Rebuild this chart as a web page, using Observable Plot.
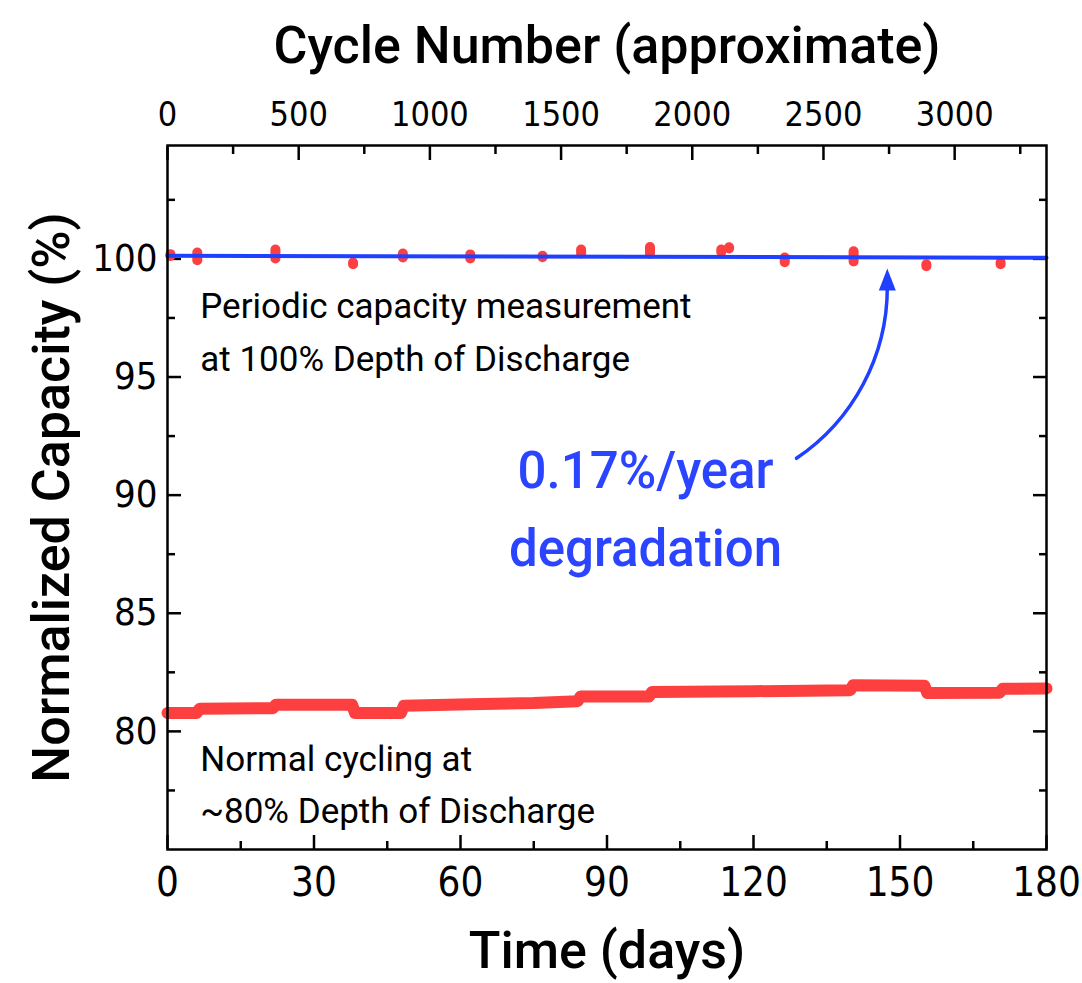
<!DOCTYPE html>
<html><head><meta charset="utf-8">
<script src="https://cdn.jsdelivr.net/npm/d3@7"></script>
<script src="https://cdn.jsdelivr.net/npm/@observablehq/plot@0.6"></script>
<style>html,body{margin:0;padding:0;background:#fff;overflow:hidden}</style>
</head><body><div id="chart"></div>
<script>
// ---- data ----
// periodic 100% DoD capacity checks (each a short vertical cluster of points)
const measDays = [0.6, 6.1, 22.1, 38.0, 48.2, 62.0, 76.8, 84.7, 98.8, 113.4, 115.0, 126.4, 140.5, 155.4, 170.6];
const measLow  = [100.10, 99.92, 100.00, 99.75, 100.04, 100.00, 100.05, 100.21, 100.20, 100.27, 100.42, 99.84, 99.87, 99.67, 99.75];
const measHigh = [100.18, 100.25, 100.38, 99.83, 100.21, 100.17, 100.11, 100.38, 100.48, 100.38, 100.47, 100.04, 100.30, 99.75, 99.83];

// normal cycling at ~80% DoD
const cycDays = [0, 6.0, 6.6, 21.6, 22.2, 37.8, 38.4, 47.8, 48.4, 62, 75, 84.0, 84.6, 98.6, 99.2, 120, 139.8, 140.4, 155.0, 155.6, 170.4, 171.0, 180];
const cycCap  = [80.78, 80.78, 80.96, 80.98, 81.13, 81.13, 80.78, 80.78, 81.08, 81.15, 81.20, 81.28, 81.48, 81.48, 81.67, 81.70, 81.74, 81.95, 81.93, 81.62, 81.64, 81.80, 81.82];

// linear fit, 0.17%/year
const fitDays = [0, 180];
const fitCap  = [100.13, 100.05];

// axis ticks
const dayMajor = [0, 30, 60, 90, 120, 150, 180];
const dayMinor = [15, 45, 75, 105, 135, 165];
const capMajor = [80, 85, 90, 95, 100];
const capMinor = [77.5, 82.5, 87.5, 92.5, 97.5, 102.5];
const cycleMajor = [0, 500, 1000, 1500, 2000, 2500, 3000];
const cycleMinor = [250, 750, 1250, 1750, 2250, 2750, 3250];
const cycleMax = 3350; // cycles at day 180 (approximate)

// labels
const titleTop = "Cycle Number (approximate)";
const titleBottom = "Time (days)";
const titleLeft = "Normalized Capacity (%)";
const noteTop = "Periodic capacity measurement\nat 100% Depth of Discharge";
const noteBottom = "Normal cycling at\n~80% Depth of Discharge";
const noteRate = "0.17%/year\ndegradation";

// ---- fonts ----
function hasFont(name) {
  const c = document.createElement("canvas").getContext("2d");
  const s = "mmmmmmmmmmlli 0123456789 ABCDEFGwxyz";
  for (const base of ["monospace", "serif"]) {
    c.font = `40px ${base}`; const w0 = c.measureText(s).width;
    c.font = `40px '${name}', ${base}`; const w1 = c.measureText(s).width;
    if (Math.abs(w0 - w1) > 0.5) return true;
  }
  return false;
}
const narrow = hasFont("Liberation Sans Narrow");
const tickFont = narrow ? "'Liberation Sans Narrow', sans-serif" : "'DejaVu Sans Condensed', sans-serif";
const dispFont = narrow ? "'Liberation Sans Narrow', sans-serif" : "Roboto, sans-serif";
const textFont = "Roboto, 'Open Sans', sans-serif";
const fs = narrow
  ? {bottom: 46, left: 44, top: 40, title: 62, rate: 60, titleW: 400, rateW: 400}
  : {bottom: 40, left: 38, top: 34, title: 52, rate: 51, titleW: 500, rateW: 500};

// ---- build ----
const RED = "#fd3f3f", BLUE = "#2040ff", BLUE_T = "#2a44ff";
const toDay = c => c * 180 / cycleMax;

const meas = measDays.map((d, i) => ({day: d, lo: measLow[i], hi: measHigh[i]}));
const cyc = cycDays.map((d, i) => ({day: d, cap: cycCap[i]}));
const fit = fitDays.map((d, i) => ({day: d, cap: fitCap[i]}));

const triangle = {draw(ctx) { ctx.moveTo(0, -15); ctx.lineTo(8.5, 7); ctx.lineTo(-8.5, 7); ctx.closePath(); }};
const arrowData = [{x1: 128.8, y1: 91.56, x2: 147.4, y2: 98.79}];
const arrowTip = [{x: 147.4, y: 98.96}];

const tickStyle = {stroke: "black", strokeWidth: 2.5, tickFormat: () => "", label: null};
const labStyle = {tickSize: 0, fontFamily: tickFont, label: null, fill: "black"};

const chart = Plot.plot({
  width: 1082, height: 983,
  marginLeft: 167, marginRight: 36, marginTop: 145, marginBottom: 134,
  style: {background: "white", color: "black", fontFamily: textFont},
  x: {domain: [0, 180]},
  y: {domain: [75, 104.8]},
  marks: [
    // tick marks (inward)
    Plot.axisX(dayMajor, {anchor: "bottom", tickSize: -14, ...tickStyle}),
    Plot.axisX(dayMinor, {anchor: "bottom", tickSize: -8, ...tickStyle}),
    Plot.axisX(cycleMajor.map(toDay), {anchor: "top", tickSize: -14, ...tickStyle}),
    Plot.axisX(cycleMinor.map(toDay), {anchor: "top", tickSize: -8, ...tickStyle}),
    Plot.axisY(capMajor, {anchor: "left", tickSize: -14, ...tickStyle}),
    Plot.axisY(capMinor, {anchor: "left", tickSize: -8, ...tickStyle}),
    Plot.axisY(capMajor, {anchor: "right", tickSize: -14, ...tickStyle}),
    Plot.axisY(capMinor, {anchor: "right", tickSize: -8, ...tickStyle}),
    // tick labels
    Plot.axisX(dayMajor, {anchor: "bottom", tickPadding: 18, fontSize: fs.bottom, ...labStyle, tickFormat: d => String(d)}),
    Plot.axisX(cycleMajor.map(toDay), {anchor: "top", tickPadding: 20, fontSize: fs.top, ...labStyle, tickFormat: d => String(Math.round(d * cycleMax / 180))}),
    Plot.axisY(capMajor, {anchor: "left", tickPadding: 10, fontSize: fs.left, ...labStyle, tickFormat: d => String(d)}),
    // data
    Plot.line(cyc, {x: "day", y: "cap", stroke: RED, strokeWidth: 12, strokeLinejoin: "round"}),
    Plot.ruleX(meas, {x: "day", y1: "lo", y2: "hi", stroke: RED, strokeWidth: 10, strokeLinecap: "round"}),
    Plot.line(fit, {x: "day", y: "cap", stroke: BLUE, strokeWidth: 4}),
    // annotations
    Plot.arrow(arrowData, {x1: "x1", y1: "y1", x2: "x2", y2: "y2", bend: -28, stroke: BLUE, strokeWidth: 3.5, headLength: 0}),
    Plot.dot(arrowTip, {x: "x", y: "y", symbol: triangle, r: 8, fill: BLUE, stroke: null}),
    Plot.text([noteTop], {x: 6.7, y: 95.24, textAnchor: "start", lineAnchor: "bottom", lineHeight: 1.52, fontSize: 35, fill: "black"}),
    Plot.text([noteBottom], {x: 6.7, y: 76.12, textAnchor: "start", lineAnchor: "bottom", lineHeight: 1.5, fontSize: 35, fill: "black"}),
    Plot.text([noteRate], {x: 97.9, y: 87.01, textAnchor: "middle", lineAnchor: "bottom", lineHeight: 78 / fs.rate, fontSize: fs.rate, fontFamily: dispFont, fill: BLUE_T, fontWeight: fs.rateW}),
    // axis titles
    Plot.text([titleTop], {frameAnchor: "top", textAnchor: "middle", dy: -83, lineAnchor: "bottom", fontSize: fs.title, fontFamily: dispFont, fill: "black", fontWeight: fs.titleW}),
    Plot.text([titleBottom], {frameAnchor: "bottom", textAnchor: "middle", dy: 118, lineAnchor: "bottom", fontSize: fs.title, fontFamily: dispFont, fill: "black", fontWeight: fs.titleW}),
    Plot.text([titleLeft], {frameAnchor: "left", textAnchor: "middle", dx: -99, rotate: -90, lineAnchor: "bottom", fontSize: fs.title, fontFamily: dispFont, fill: "black", fontWeight: fs.titleW}),
    Plot.frame({stroke: "black", strokeWidth: 2.5})
  ]
});
document.getElementById("chart").appendChild(chart);
</script>
</body></html>
